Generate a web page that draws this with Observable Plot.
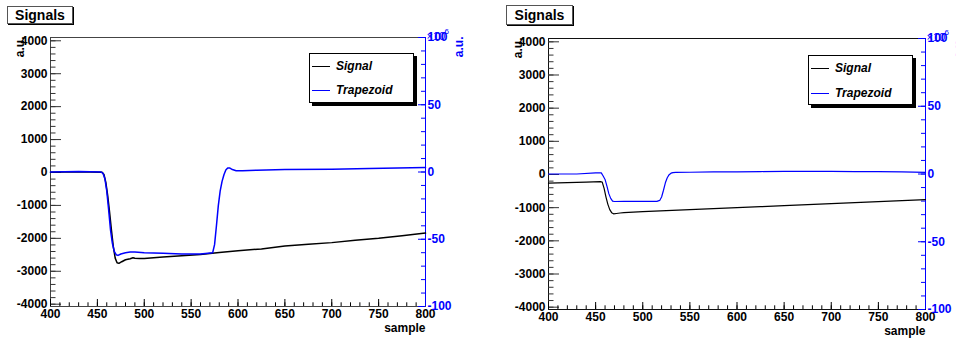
<!DOCTYPE html>
<html><head><meta charset="utf-8">
<script src="https://cdn.jsdelivr.net/npm/d3@7"></script>
<script src="https://cdn.jsdelivr.net/npm/@observablehq/plot@0.6"></script>
<style>
body{margin:0;background:#fff;}
#wrap{position:relative;width:956px;height:343px;overflow:hidden;background:#fff;font-family:"Liberation Sans",Arial,sans-serif;}
.panel{position:absolute;top:0;}
.title{position:absolute;background:#fff;border:1px solid #555;box-shadow:1px 1px 0 #000;font-weight:bold;font-size:14px;text-align:center;box-sizing:border-box;line-height:16px;}
.legend{position:absolute;background:#fff;border:1px solid #000;box-shadow:3px 3px 0 #000;box-sizing:border-box;}
.sw{position:absolute;height:1px;}
.lt{position:absolute;font-weight:bold;font-style:italic;font-size:12px;line-height:14px;white-space:nowrap;}
</style>
</head><body>
<div id="wrap"></div>
<script>
// ---- data ----
const titleText = "Signals";
const seriesNames = ["Signal", "Trapezoid"];
const seriesColors = ["#000000", "#0000ff"];
const xLabel = "sample";
const yLabel = "a.u.";
const yRightLabel = "a.u.";
const xDomain = [400, 800];
const yDomain = [-4070, 4100];
const yRightDomain = [-100, 100];
const xTicks = [400, 450, 500, 550, 600, 650, 700, 750, 800];
const yTicks = [-4000, -3000, -2000, -1000, 0, 1000, 2000, 3000, 4000];
const yRightTicks = [-100, -50, 0, 50, 100];

// left panel
const sigL_x = [400,430,455,457,459,461,463,465,467,469,471,473,476,480,485,488,490,495,500,520,540,560,580,600,625,650,675,700,725,750,775,800];
const sigL_v = [10,20,10,-60,-300,-700,-1200,-1750,-2250,-2600,-2740,-2760,-2710,-2650,-2620,-2590,-2605,-2615,-2610,-2570,-2530,-2490,-2430,-2380,-2320,-2230,-2180,-2130,-2060,-2000,-1920,-1840];
const trL_x = [400,430,454,456,458,460,462,464,466,468,470,472,475,480,485,490,500,520,540,560,573,575,577,579,581,583,585,587,589,591,594,598,605,620,650,700,740,770,800];
const trL_v = [0,0.3,0,-1,-5,-14,-28,-43,-53,-59,-61.5,-62,-61,-60,-59.5,-59.5,-60,-60.5,-61,-61,-60,-54,-40,-25,-14,-7,-2,1.5,3,3,1.8,1,1,1.3,1.8,2,2.6,3,3.4];

// right panel
const sigR_x = [400,420,440,455,457,459,461,463,465,467,469,472,476,480,490,500,525,550,575,600,625,650,675,700,725,750,775,800];
const sigR_v = [-260,-245,-230,-215,-230,-420,-680,-900,-1060,-1150,-1185,-1175,-1160,-1150,-1135,-1120,-1090,-1060,-1030,-1000,-970,-940,-910,-880,-850,-820,-790,-760];
const trR_x = [400,430,450,456,458,460,462,464,466,468,470,480,500,515,518,520,522,524,526,528,530,532,535,550,575,600,625,650,675,700,725,750,775,800];
const trR_v = [0,0,0.8,0.8,-1.5,-4,-9,-14.5,-18,-20,-20.3,-20.2,-20.2,-20.2,-19.5,-17,-12,-6.5,-2.8,-0.5,0.6,1,1.2,1.3,1.5,1.6,1.8,2,2,1.9,1.8,1.7,1.5,1.2];

// ---- drawing ----
const FF = "Liberation Sans, Arial, Helvetica, sans-serif";
const BLUE = seriesColors[1];
const T = {fontFamily: FF, fontSize: 12, fontWeight: "bold"};

function panel(cfg) {
  const W = 478, H = 343;
  const {mL, mR, mT, mB, sw, frameStroke} = cfg;
  const fw = W - mL - mR, fh = H - mT - mB;
  const toLeft = d3.scaleLinear(yRightDomain, yDomain);
  const sig = cfg.sx.map((x, i) => ({x, v: cfg.sv[i]}));
  const tr = cfg.tx.map((x, i) => ({x, v: cfg.tv[i]}));
  const xMinor = d3.range(xDomain[0], xDomain[1] + 1, 10);
  const yMinor = d3.range(-4000, 4001, 200);
  const rMinor = d3.range(-100, 101, 10);
  return Plot.plot({
    width: W, height: H,
    marginLeft: mL, marginRight: mR, marginTop: mT, marginBottom: mB,
    x: {domain: xDomain, axis: null},
    y: {domain: yDomain, axis: null},
    style: {background: "white", overflow: "visible", fontFamily: FF},
    marks: [
      Plot.frame({stroke: frameStroke}),
      // left axis ticks
      Plot.tickY(yMinor, {y: d => d, insetRight: fw - 5.5, stroke: "#333"}),
      Plot.tickY(yTicks, {y: d => d, insetRight: fw - 11, stroke: "#333"}),
      // bottom axis ticks
      Plot.tickX(xMinor, {x: d => d, insetTop: fh - 3.7, stroke: "#000"}),
      Plot.tickX(xTicks, {x: d => d, insetTop: fh - 7, stroke: "#000"}),
      // right axis
      Plot.ruleX([xDomain[1]], {stroke: BLUE}),
      Plot.tickY(rMinor, {y: d => toLeft(d), insetLeft: fw - 4, stroke: BLUE}),
      Plot.tickY(yRightTicks, {y: d => toLeft(d), insetLeft: fw - 7, stroke: BLUE}),
      // series
      Plot.line(sig, {x: "x", y: "v", stroke: seriesColors[0], strokeWidth: sw}),
      Plot.line(tr, {x: "x", y: d => toLeft(d.v), stroke: seriesColors[1], strokeWidth: sw}),
      // labels
      Plot.text(yTicks, {y: d => d, text: d => String(d), frameAnchor: "left", textAnchor: "end", dx: -3, ...T}),
      Plot.text(xTicks, {x: d => d, text: d => String(d), frameAnchor: "bottom", lineAnchor: "top", dy: 3, ...T}),
      Plot.text(yRightTicks, {y: d => toLeft(d), text: d => String(d), frameAnchor: "right", textAnchor: "start", dx: 2, fill: BLUE, ...T}),
      Plot.text([xLabel], {frameAnchor: "bottom-right", textAnchor: "end", dy: 25, ...T}),
      Plot.text([yLabel], {frameAnchor: "top-left", rotate: -90, textAnchor: "end", dx: -35, dy: -1, ...T}),
      Plot.text([yRightLabel], {frameAnchor: "top-right", rotate: -90, textAnchor: "end", dx: 29, dy: -1, fill: BLUE, ...T}),
      Plot.text(["\u00d710"], {frameAnchor: "top-right", textAnchor: "start", dx: 1, dy: -5, fontFamily: FF, fontSize: 11, fill: BLUE}),
      Plot.text(["6"], {frameAnchor: "top-right", textAnchor: "start", dx: 19, dy: -9, fontFamily: FF, fontSize: 8, fill: BLUE})
    ]
  });
}

const wrap = document.getElementById("wrap");
const cfgs = [
  {left: 0, mL: 50, mR: 53, mT: 37, mB: 37, sw: 1.5, frameStroke: "#444", sx: sigL_x, sv: sigL_v, tx: trL_x, tv: trL_v,
   title: {x: 7, y: 6, w: 66, h: 18}, legend: {x: 309, y: 53, w: 105, h: 50, r1: 12, r2: 36}},
  {left: 478, mL: 70, mR: 31, mT: 38, mB: 34, sw: 1.2, frameStroke: "#111", sx: sigR_x, sv: sigR_v, tx: trR_x, tv: trR_v,
   title: {x: 506, y: 5, w: 67, h: 20}, legend: {x: 808, y: 55, w: 105, h: 50, r1: 12, r2: 37}}
];
for (const c of cfgs) {
  const d = document.createElement("div");
  d.className = "panel";
  d.style.left = c.left + "px";
  d.appendChild(panel(c));
  wrap.appendChild(d);
}
for (const c of cfgs) {
  const t = document.createElement("div");
  t.className = "title";
  Object.assign(t.style, {left: c.title.x + "px", top: c.title.y + "px", width: c.title.w + "px", height: c.title.h + "px", lineHeight: (c.title.h - 2) + "px"});
  t.textContent = titleText;
  wrap.appendChild(t);
  const L = c.legend;
  const lg = document.createElement("div");
  lg.className = "legend";
  Object.assign(lg.style, {left: L.x + "px", top: L.y + "px", width: L.w + "px", height: L.h + "px"});
  [L.r1, L.r2].forEach((row, i) => {
    const s = document.createElement("div");
    s.className = "sw";
    Object.assign(s.style, {left: "2px", top: row + "px", width: "18px", background: seriesColors[i]});
    lg.appendChild(s);
    const tx = document.createElement("div");
    tx.className = "lt";
    Object.assign(tx.style, {left: "26px", top: (row - 7) + "px"});
    tx.textContent = seriesNames[i];
    lg.appendChild(tx);
  });
  wrap.appendChild(lg);
}
</script>
</body></html>
